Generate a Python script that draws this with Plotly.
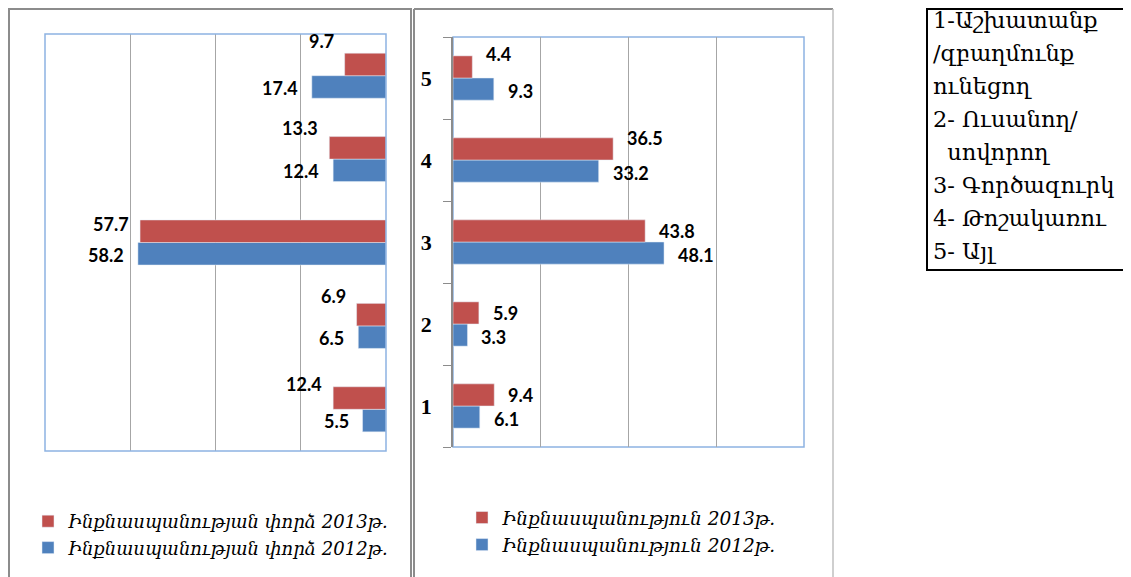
import plotly.graph_objects as go

# the page body has an 8px margin, so the figure is drawn 8px in from the window
OFF = 8
W, H = 1131 - OFF, 577 - OFF

categories = ["1", "2", "3", "4", "5"]
attempt_2013 = [12.4, 6.9, 57.7, 13.3, 9.7]
attempt_2012 = [5.5, 6.5, 58.2, 12.4, 17.4]
suicide_2013 = [9.4, 5.9, 43.8, 36.5, 4.4]
suicide_2012 = [6.1, 3.3, 48.1, 33.2, 9.3]

name_attempt_2013 = "Ինքնասպանության փորձ 2013թ."
name_attempt_2012 = "Ինքնասպանության փորձ 2012թ."
name_suicide_2013 = "Ինքնասպանություն 2013թ."
name_suicide_2012 = "Ինքնասպանություն 2012թ."

box_lines = ["1-Աշխատանք", "/զբաղմունք", "ունեցող", "2- Ուսանող/",
             "\u00a0\u00a0սովորող", "3- Գործազուրկ", "4- Թոշակառու", "5- Այլ"]

# label nudges (pixels, upward) for the 2013 labels, by category
left_red_nudge = [14, 19, 8, 20, 24]
right_red_nudge = [0, 0, 0, 11, 13]

RED = "#C0504D"
BLUE = "#4F81BD"
GRID = "#A6A6A6"
FRAME = "#8DB3E2"


def px(x):
    return (x - OFF) / W


def py(y):
    return 1 - (y - OFF) / H


fig = go.Figure()

# left panel (reversed axis)
fig.add_trace(go.Bar(y=categories, x=attempt_2012, orientation="h", name=name_attempt_2012,
                     marker_color=BLUE, xaxis="x", yaxis="y", legend="legend"))
fig.add_trace(go.Bar(y=categories, x=attempt_2013, orientation="h", name=name_attempt_2013,
                     marker_color=RED, xaxis="x", yaxis="y", legend="legend"))
# right panel
fig.add_trace(go.Bar(y=categories, x=suicide_2012, orientation="h", name=name_suicide_2012,
                     marker_color=BLUE, xaxis="x2", yaxis="y2", legend="legend2"))
fig.add_trace(go.Bar(y=categories, x=suicide_2013, orientation="h", name=name_suicide_2013,
                     marker_color=RED, xaxis="x2", yaxis="y2", legend="legend2"))

label_font = dict(family="Lato, Arial", size=18, color="#000000", weight="bold")
annotations = []
BAR_OFF = 11
for i, c in enumerate(categories):
    # on a category axis, the numeric position i is the index of category c
    annotations.append(dict(x=attempt_2013[i], y=i, xref="x", yref="y", text=f"{attempt_2013[i]:.1f}",
                            showarrow=False, xanchor="right", yanchor="middle", xshift=-9,
                            yshift=BAR_OFF + left_red_nudge[i], font=label_font))
    annotations.append(dict(x=attempt_2012[i], y=i, xref="x", yref="y", text=f"{attempt_2012[i]:.1f}",
                            showarrow=False, xanchor="right", yanchor="middle", xshift=-12,
                            yshift=-BAR_OFF - 1, font=label_font))
    annotations.append(dict(x=suicide_2013[i], y=i, xref="x2", yref="y2", text=f"{suicide_2013[i]:.1f}",
                            showarrow=False, xanchor="left", yanchor="middle", xshift=12,
                            yshift=BAR_OFF + right_red_nudge[i], font=label_font))
    annotations.append(dict(x=suicide_2012[i], y=i, xref="x2", yref="y2", text=f"{suicide_2012[i]:.1f}",
                            showarrow=False, xanchor="left", yanchor="middle", xshift=12,
                            yshift=-BAR_OFF - 2, font=label_font))

box_font = dict(family="DejaVu Serif", size=22.5, color="#000000")
for k, t in enumerate(box_lines):
    annotations.append(dict(x=px(931), y=py(20 + 33 * k), xref="paper", yref="paper", text=t,
                            showarrow=False, xanchor="left", yanchor="middle", font=box_font))

TOP = 9
shapes = [
    # left panel frame
    dict(type="rect", xref="paper", yref="paper", x0=px(9), x1=px(411), y0=-0.05, y1=py(TOP),
         line=dict(color="#8C8C8C", width=2), layer="below"),
    # right panel frame
    dict(type="line", xref="paper", yref="paper", x0=px(414), x1=px(414), y0=-0.05, y1=py(TOP),
         line=dict(color="#8C8C8C", width=2)),
    dict(type="line", xref="paper", yref="paper", x0=px(414), x1=px(833), y0=py(TOP), y1=py(TOP),
         line=dict(color="#8C8C8C", width=2)),
    dict(type="line", xref="paper", yref="paper", x0=px(833), x1=px(833), y0=-0.05, y1=py(TOP),
         line=dict(color="#BFBFBF", width=1.5)),
    # plot area frames
    dict(type="rect", xref="x domain", yref="y domain", x0=0, x1=1, y0=0, y1=1,
         line=dict(color=FRAME, width=1.5), layer="above"),
    dict(type="rect", xref="x2 domain", yref="y2 domain", x0=0, x1=1, y0=0, y1=1,
         line=dict(color=FRAME, width=1.5), layer="below"),
    # text box
    dict(type="rect", xref="paper", yref="paper", x0=px(927), x1=px(1127), y0=py(270), y1=py(TOP),
         line=dict(color="#000000", width=2)),
]

legend_font = dict(family="DejaVu Serif", size=18, color="#000000", style="italic")
cat_range = [-0.5, len(categories) - 0.5]

fig.update_layout(
    width=W, height=H,
    margin=dict(l=0, r=0, t=0, b=0),
    paper_bgcolor="white", plot_bgcolor="white",
    barmode="group", bargap=0.46, bargroupgap=0,
    hovermode=False,
    xaxis=dict(domain=[px(45), px(386)], range=[80, 0], dtick=20, showgrid=True, gridcolor=GRID,
               gridwidth=1, showticklabels=False, zeroline=False, showline=False, ticks="",
               anchor="y", fixedrange=True),
    yaxis=dict(type="category", domain=[py(451), py(34)], range=cat_range, showticklabels=False,
               showgrid=False, zeroline=False, showline=False, ticks="", anchor="x",
               categoryorder="array", categoryarray=categories, fixedrange=True),
    xaxis2=dict(domain=[px(453), px(804)], range=[0, 80], dtick=20, showgrid=True, gridcolor=GRID,
                gridwidth=1, showticklabels=False, zeroline=False, showline=False, ticks="",
                anchor="y2", fixedrange=True),
    yaxis2=dict(type="category", domain=[py(447), py(37)], range=cat_range, showticklabels=True,
                showgrid=False, zeroline=False, showline=True, linecolor="#8C8C8C", linewidth=1.5,
                ticks="outside", tickson="boundaries", ticklen=8, tickcolor="#8C8C8C",
                tickfont=dict(family="Liberation Serif", size=22, color="#000000", weight="bold"),
                ticklabelstandoff=15, anchor="x2", categoryorder="array",
                categoryarray=categories, fixedrange=True),
    legend=dict(x=px(28), y=py(503), xanchor="left", yanchor="top", traceorder="reversed",
                font=legend_font, bgcolor="rgba(0,0,0,0)", itemwidth=30, itemclick=False),
    legend2=dict(x=px(462), y=py(499), xanchor="left", yanchor="top", traceorder="reversed",
                 font=dict(family="DejaVu Serif", size=18.5, color="#000000", style="italic"),
                 bgcolor="rgba(0,0,0,0)", itemwidth=30, itemclick=False),
    annotations=annotations,
    shapes=shapes,
    showlegend=True,
)

fig.write_html("out.html")
